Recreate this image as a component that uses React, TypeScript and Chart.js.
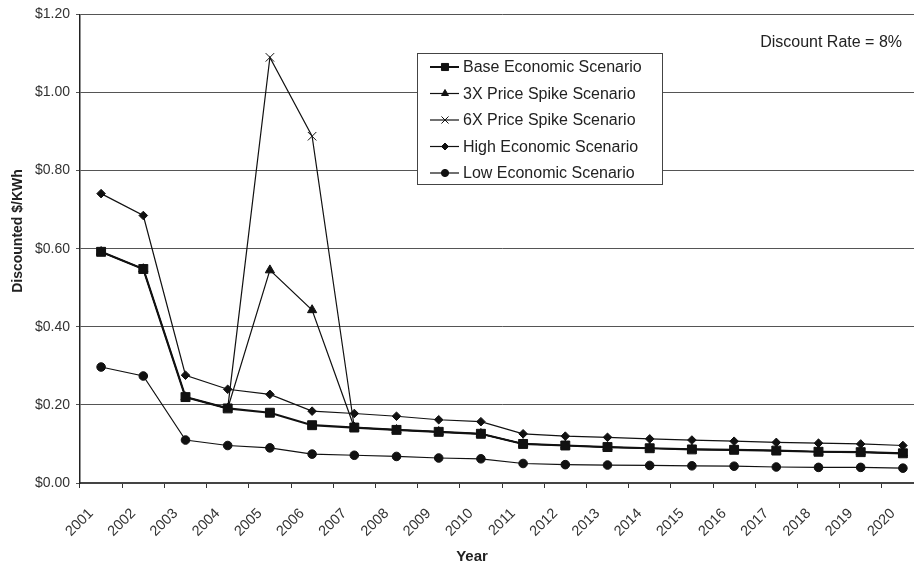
import React, { useEffect, useRef } from 'react';
import { Chart, registerables } from 'chart.js';
import { drawPoint } from 'chart.js/helpers';

Chart.register(...registerables);

const years = ['2001', '2002', '2003', '2004', '2005', '2006', '2007', '2008', '2009', '2010',
  '2011', '2012', '2013', '2014', '2015', '2016', '2017', '2018', '2019', '2020'];

const baseScenario = [0.592, 0.548, 0.220, 0.191, 0.180, 0.148, 0.142, 0.136, 0.131, 0.126,
  0.100, 0.096, 0.092, 0.089, 0.086, 0.085, 0.083, 0.080, 0.079, 0.076];
const spike3x = [0.592, 0.548, 0.220, 0.191, 0.545, 0.443, 0.142, 0.136, 0.131, 0.126,
  0.100, 0.096, 0.092, 0.089, 0.086, 0.085, 0.083, 0.080, 0.079, 0.076];
const spike6x = [0.592, 0.548, 0.220, 0.191, 1.090, 0.888, 0.142, 0.136, 0.131, 0.126,
  0.100, 0.096, 0.092, 0.089, 0.086, 0.085, 0.083, 0.080, 0.079, 0.076];
const highScenario = [0.741, 0.685, 0.276, 0.240, 0.227, 0.184, 0.178, 0.171, 0.162, 0.157,
  0.126, 0.120, 0.117, 0.113, 0.110, 0.107, 0.104, 0.102, 0.100, 0.096];
const lowScenario = [0.297, 0.274, 0.110, 0.096, 0.090, 0.074, 0.071, 0.068, 0.064, 0.062,
  0.050, 0.047, 0.046, 0.045, 0.044, 0.043, 0.041, 0.040, 0.040, 0.038];

const seriesNames = ['Base Economic Scenario', '3X Price Spike Scenario', '6X Price Spike Scenario',
  'High Economic Scenario', 'Low Economic Scenario'];
const yTickValues = [0, 0.2, 0.4, 0.6, 0.8, 1.0, 1.2];
const annotationText = 'Discount Rate = 8%';
const xTitle = 'Year';
const yTitle = 'Discounted $/KWh';

const FONT = '"Liberation Sans", Arial, Helvetica, sans-serif';
const INK = '#111';

const styles = [
  { pointStyle: 'rect', radius: 6.3, legendRadius: 5, lineWidth: 2.2 },
  { pointStyle: 'triangle', radius: 5.3, legendRadius: 4, lineWidth: 1.2 },
  { pointStyle: 'crossRot', radius: 6, legendRadius: 5, lineWidth: 1.2 },
  { pointStyle: 'rectRot', radius: 4.3, legendRadius: 3.5, lineWidth: 1.2 },
  { pointStyle: 'circle', radius: 4.3, legendRadius: 3.6, lineWidth: 1.2 },
];

const overlayPlugin = {
  id: 'overlay',
  afterDraw(chart: any) {
    const ctx = chart.ctx as CanvasRenderingContext2D;
    ctx.save();
    // legend box
    const bx = 417, by = 53, bw = 245, bh = 131;
    ctx.fillStyle = '#fff';
    ctx.fillRect(bx, by, bw, bh);
    ctx.strokeStyle = '#444';
    ctx.lineWidth = 1;
    ctx.strokeRect(bx + 0.5, by + 0.5, bw, bh);
    ctx.font = `16px ${FONT}`;
    ctx.textBaseline = 'middle';
    ctx.textAlign = 'left';
    seriesNames.forEach((name, i) => {
      const cy = by + 14 + i * 26.5;
      ctx.strokeStyle = INK;
      ctx.lineWidth = i === 0 ? 2 : 1.2;
      ctx.beginPath();
      ctx.moveTo(430, cy);
      ctx.lineTo(459, cy);
      ctx.stroke();
      ctx.fillStyle = INK;
      ctx.strokeStyle = INK;
      ctx.lineWidth = 1;
      drawPoint(ctx, { pointStyle: styles[i].pointStyle as any, radius: styles[i].legendRadius, rotation: 0, borderWidth: 1 } as any, 445, cy);
      ctx.fillStyle = '#222';
      ctx.fillText(name, 463, cy + 1);
    });
    // annotation
    ctx.font = `16px ${FONT}`;
    ctx.fillStyle = '#222';
    ctx.textAlign = 'right';
    ctx.fillText(annotationText, 902, 43);
    // axis titles
    ctx.font = `bold 15px ${FONT}`;
    ctx.textAlign = 'center';
    ctx.fillText(xTitle, 472, 557);
    ctx.translate(18, 231);
    ctx.rotate(-Math.PI / 2);
    ctx.font = `bold 14px ${FONT}`;
    ctx.fillText(yTitle, 0, 0);
    ctx.restore();
  },
};

export default function App() {
  const canvasRef = useRef<HTMLCanvasElement | null>(null);

  useEffect(() => {
    const canvas = canvasRef.current;
    if (!canvas) return;
    const data = [baseScenario, spike3x, spike6x, highScenario, lowScenario];
    const chart = new Chart(canvas, {
      type: 'line',
      data: {
        labels: years,
        datasets: data.map((vals, i) => ({
          label: seriesNames[i],
          data: vals,
          borderColor: INK,
          backgroundColor: INK,
          borderWidth: styles[i].lineWidth,
          pointStyle: styles[i].pointStyle as any,
          pointRadius: styles[i].radius,
          pointBorderWidth: 1,
          pointBorderColor: INK,
          pointBackgroundColor: INK,
          tension: 0,
          fill: false,
        })),
      },
      options: {
        responsive: false,
        animation: false,
        devicePixelRatio: 1,
        layout: { padding: { top: 13, right: 16, left: 0, bottom: 0 } },
        plugins: {
          legend: { display: false },
          tooltip: { enabled: false },
        },
        scales: {
          x: {
            type: 'category',
            offset: true,
            grid: {
              offset: true,
              drawOnChartArea: false,
              drawTicks: true,
              tickLength: 5,
              color: '#333',
              lineWidth: 1,
            },
            border: { display: true, color: '#444', width: 2 },
            ticks: {
              color: '#333',
              font: { family: FONT, size: 14.5 },
              minRotation: 45,
              maxRotation: 45,
              autoSkip: false,
              padding: 17,
              labelOffset: -10,
            },
            afterFit(scale: any) {
              scale.height = 84;
            },
          },
          y: {
            min: 0,
            max: 1.2,
            afterBuildTicks(scale: any) {
              scale.ticks = yTickValues.map((v) => ({ value: v }));
            },
            grid: {
              color: '#555',
              lineWidth: 1,
              drawTicks: true,
              tickLength: 4,
            },
            border: { display: true, color: '#222', width: 1.5 },
            ticks: {
              color: '#333',
              font: { family: FONT, size: 14 },
              padding: 6,
              callback: (v: any) => '$' + Number(v).toFixed(2),
            },
            afterFit(scale: any) {
              scale.width = 80;
            },
          },
        },
      },
      plugins: [overlayPlugin],
    });
    return () => chart.destroy();
  }, []);

  return (
    <div style={{ position: 'fixed', left: 0, top: 0, width: 914, height: 567, overflow: 'hidden', background: '#fff' }}>
      <canvas ref={canvasRef} width={940} height={567} style={{ width: 940, height: 567, display: 'block' }} />
    </div>
  );
}
